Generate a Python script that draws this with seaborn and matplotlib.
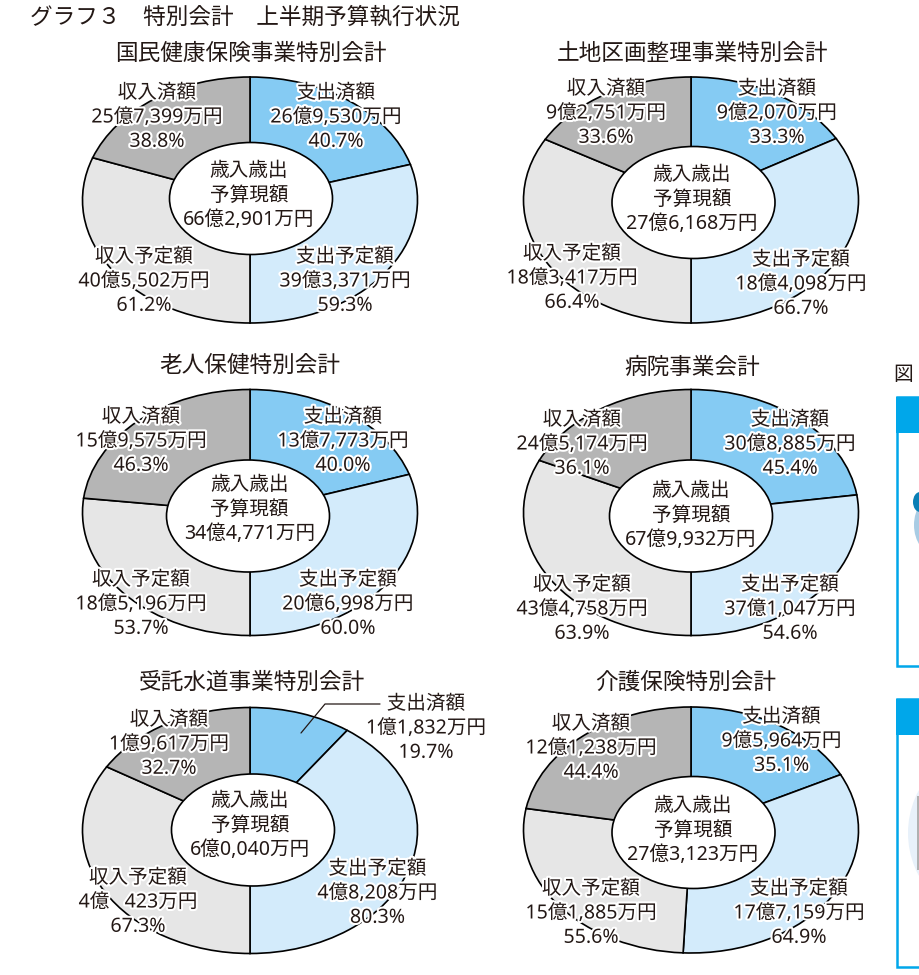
import matplotlib
matplotlib.use('Agg')
import matplotlib.pyplot as plt
import matplotlib.patheffects as pe
from matplotlib.patches import Ellipse, Rectangle
import seaborn as sns

# 万円
titles = ['国民健康保険事業特別会計', '土地区画整理事業特別会計', '老人保健特別会計',
          '病院事業会計', '受託水道事業特別会計', '介護保険特別会計']
spend_done = [269530, 92070, 137773, 308885, 11832, 95964]
spend_plan = [393371, 184098, 206998, 371047, 48208, 177159]
rev_plan = [405502, 183417, 185196, 434758, 40423, 151885]
rev_done = [257399, 92751, 159575, 245174, 19617, 121238]
budget = [662901, 276168, 344771, 679932, 60040, 273123]
# 介護保険 only: the drawn bottom divider sits a little left of the bottom
drawn_shift = [0, 0, 0, 0, 0, 4100]

seg_names = ['支出済額', '支出予定額', '収入予定額', '収入済額']
seg_colors = sns.color_palette(['#85CBF3', '#D3EBFB', '#E6E6E6', '#B5B5B5'])

# layout in pixels of the 920x975 image
pie_xy = [(250, 200), (691, 200), (250, 512.5), (691, 512.5), (250, 830.5), (691, 830)]
pie_r = (167.5, 123)
hole_xy = [(251, 198.5), (693.5, 202.5), (248, 516), (691, 516), (253, 830), (693.5, 832.5)]
hole_r = (81.5, 56)
title_xy = [(251, 53), (693, 53), (250, 365), (692.5, 367), (252, 682), (686, 682)]
mid_xy = [(249, 194), (692, 198), (249.5, 508), (691, 514), (250, 824), (693, 829)]
# same order as seg_names
label_xy = [
    [(336, 116), (345, 280), (144, 280), (157, 116)],
    [(777, 112), (801, 283), (572, 277), (606, 112)],
    [(343, 440), (348, 603), (141, 603), (141, 440)],
    [(790, 443), (790, 608), (582, 608), (582, 443)],
    [(426, 727), (377.5, 892), (138, 901), (169, 743)],
    [(781.5, 740), (799, 912), (591, 912), (591, 747)],
]

W, H = 920, 975
ink = '#231815'
sky = '#00A7EA'

sns.set_theme(style='white')
plt.rcParams['font.family'] = ['Noto Sans', 'Noto Sans CJK JP', 'DejaVu Sans']


def money(v, pad='   '):
    oku, man = divmod(v, 10000)
    # 4億 423万円 keeps a gap where the thousands digit would be, 6億0,040万円 a zero
    if man >= 1000:
        return f'{oku}億{man:,}万円'
    if pad == '0':
        return f'{oku}億0,{man:03d}万円'
    return f'{oku}億{pad}{man}万円'


fig = plt.figure(figsize=(W / 100, H / 100), dpi=100, facecolor='white')

for i in range(6):
    cx, cy = pie_xy[i]
    rx, ry = pie_r
    ax = fig.add_axes([(cx - rx) / W, 1 - (cy + ry) / H, 2 * rx / W, 2 * ry / H], zorder=1)
    vals = [spend_done[i], spend_plan[i] + drawn_shift[i], rev_plan[i] - drawn_shift[i], rev_done[i]]
    ax.pie(vals, colors=seg_colors, startangle=90, counterclock=False,
           wedgeprops=dict(edgecolor='black', linewidth=1.2, clip_on=False))
    ax.set_aspect('auto')
    ax.set_xlim(-1, 1)
    ax.set_ylim(-1, 1)

# overlay in pixel coordinates for holes, text and the side panels
top = fig.add_axes([0, 0, 1, 1], zorder=2)
top.set_xlim(0, W)
top.set_ylim(H, 0)
top.axis('off')
top.patch.set_alpha(0)

halo = [pe.withStroke(linewidth=3, foreground='white')]
size = 14.1
gap = 24.3
nudge = 1.5

for i in range(6):
    hx, hy = hole_xy[i]
    top.add_patch(Ellipse((hx, hy), 2 * hole_r[0], 2 * hole_r[1], fc='white', ec='black', lw=1.2))
    top.text(title_xy[i][0], title_xy[i][1] + nudge, titles[i], ha='center', va='center',
             fontsize=16.3, color=ink)

    mx, my = mid_xy[i]
    for k, line in enumerate(['歳入歳出', '予算現額', money(budget[i], pad='0')]):
        top.text(mx, my + nudge + (k - 1) * gap, line, ha='center', va='center', fontsize=size, color=ink)

    amounts = [spend_done[i], spend_plan[i], rev_plan[i], rev_done[i]]
    for j in range(4):
        lx, ly = label_xy[i][j]
        pct = amounts[j] / budget[i] * 100
        lines = [seg_names[j], money(amounts[j]), f'{pct:.1f}%']
        for k, line in enumerate(lines):
            top.text(lx, ly + nudge + (k - 1) * gap, line, ha='center', va='center', fontsize=size,
                     color=ink, path_effects=halo)

top.text(30, 18, 'グラフ３　特別会計　上半期予算執行状況', ha='left', va='center', fontsize=16.3, color=ink)

# leader for the small 支出済額 slice of 受託水道
top.plot([301, 325, 380], [733, 704, 704], color=ink, lw=0.9)

# cut-off panels at the right edge of the page
top.text(893, 375, '図', ha='left', va='center', fontsize=14.2, color=ink)
for y0, y1 in [(397, 666), (699, 967)]:
    top.add_patch(Rectangle((897.2, y0), 40, y1 - y0, fc='white', ec=sky, lw=1.8))
    top.add_patch(Rectangle((896, y0), 40, 36, fc=sky, ec='none'))
top.add_patch(Ellipse((936, 525), 44, 60, fc='#A9CCE4', ec='none'))
top.add_patch(Ellipse((920, 502), 14, 20, fc='#0A7FB5', ec='none'))
top.add_patch(Ellipse((998, 833), 180, 180, fc='#E8F1FA', ec='none'))
top.add_patch(Rectangle((917, 796), 10, 74, fc='#B0B0B0', ec='none'))

fig.savefig('out.png', dpi=100)
